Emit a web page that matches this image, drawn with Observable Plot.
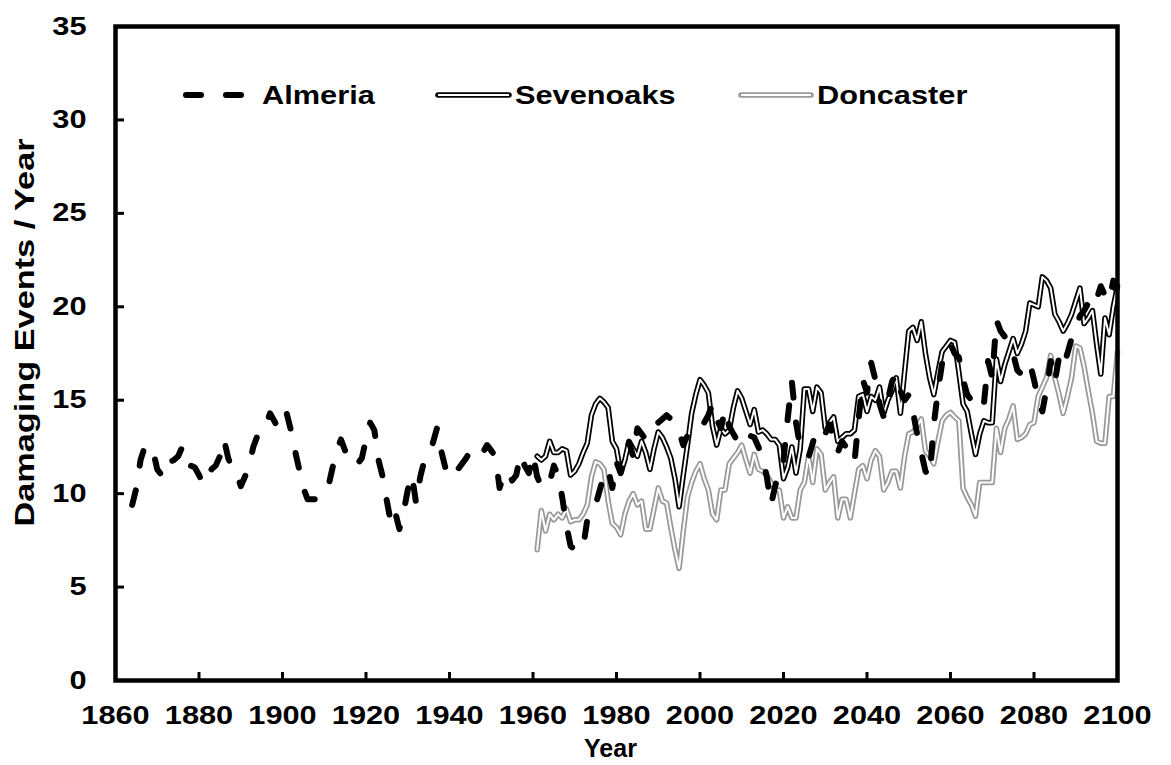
<!DOCTYPE html>
<html><head><meta charset="utf-8">
<script src="https://cdn.jsdelivr.net/npm/d3@7"></script>
<script src="https://cdn.jsdelivr.net/npm/@observablehq/plot@0.6"></script>
<style>
body{margin:0;background:#fff}
#chart{width:1171px;height:765px;position:relative}
</style>
</head><body><div id="chart"></div>
<script>
// ---- data ----
const almeriaStart = 1864;
const almeria = [
 9.4,10.3,11.8,12.5,12.2,12.3,11.3,11.0,10.9,11.7,
 11.8,12.0,12.5,11.6,11.5,11.4,11.0,10.5,11.0,11.3,
 11.5,12.0,12.9,11.9,11.3,11.1,10.4,10.9,11.5,12.5,
 13.1,13.5,13.6,14.3,13.9,13.5,14.2,14.3,13.4,12.3,
 11.3,10.3,9.7,9.7,9.7,9.8,10.0,10.4,11.4,12.3,
 12.9,12.3,11.9,11.5,11.6,11.9,12.9,13.8,13.4,11.8,
 10.9,9.6,8.4,9.0,8.1,9.0,10.2,11.0,9.5,10.9,
 11.8,12.3,12.7,13.5,12.3,11.4,11.8,11.8,11.3,11.6,
 11.9,12.3,12.5,12.3,12.2,12.6,12.3,12.0,10.3,11.0,
 11.2,10.7,11.0,12.1,11.5,11.1,12.1,10.9,10.4,10.3,
 10.6,11.5,11.0,9.8,8.3,7.2,7.0,6.9,7.1,8.6,
 9.0,9.4,10.2,11.0,11.3,10.3,11.7,11.1,12.0,12.75,
 12.0,13.5,13.2,12.9,13.2,13.6,13.8,14.0,14.2,14.0,
 13.6,13.3,12.6,13.1,13.2,13.3,13.3,13.8,14.2,14.8,
 14.0,13.5,14.5,13.6,13.2,12.8,13.3,13.2,13.1,13.0,
 12.5,11.9,10.9,9.4,10.4,11.2,11.8,14.0,16.0,13.8,
 12.5,12.2,11.95,12.7,13.5,13.4,13.2,13.7,13.0,12.2,
 12.8,12.5,12.2,11.7,14.0,16.1,15.4,17.0,16.1,14.8,
 14.1,15.0,16.0,16.4,15.5,15.0,15.3,14.4,13.2,12.2,
 11.2,10.9,13.7,15.5,17.0,17.6,18.0,17.5,17.3,16.1,
 15.3,15.0,15.3,14.9,14.8,17.1,16.2,19.3,18.7,18.4,
 18.0,17.5,16.6,16.4,16.8,17.0,16.1,15.0,14.4,15.6,
 17.1,16.0,17.3,16.8,17.5,18.3,18.9,19.5,19.8,20.2,
 19.9,20.4,21.1,20.6,20.3,21.4,20.6
];
const sevenoaksStart = 1961;
const sevenoaks = [
 12.0,11.8,12.0,12.8,12.2,12.2,12.4,12.3,11.0,11.2,
 11.6,12.2,12.7,14.2,14.8,15.1,14.9,14.6,12.8,12.4,
 11.1,11.8,12.8,12.4,12.0,12.8,12.2,11.3,12.4,13.3,
 13.0,12.5,11.9,10.8,9.3,11.0,12.6,14.3,15.3,16.1,
 15.8,15.4,13.6,12.6,13.5,13.2,13.4,14.6,15.5,15.1,
 14.4,13.7,14.5,13.3,13.4,13.2,12.9,12.9,12.6,10.8,
 11.4,12.5,11.1,12.4,15.6,15.6,14.4,15.7,15.4,13.5,
 13.8,14.1,12.8,13.0,13.2,13.2,13.4,15.2,15.3,14.4,
 15.2,15.0,15.7,14.3,15.0,15.5,16.2,14.3,16.5,18.7,
 18.9,18.2,19.2,17.5,16.2,15.3,16.5,17.6,17.9,18.2,
 18.1,16.5,14.8,14.4,13.2,12.1,13.2,13.9,13.8,13.8,
 17.2,16.0,16.9,17.6,18.3,17.5,18.0,18.7,20.2,20.1,
 20.0,21.6,21.4,21.0,19.6,19.2,18.7,19.1,19.6,20.3,
 21.0,19.1,19.4,19.8,18.0,16.4,19.4,18.5,20.0,21.1
];
const doncasterStart = 1961;
const doncaster = [
 7.0,9.1,8.0,8.9,8.6,8.9,8.7,9.2,8.5,8.6,
 8.6,8.9,9.4,10.9,11.7,11.6,11.3,9.6,8.4,8.2,
 7.8,8.9,9.6,10.0,9.4,9.6,8.1,8.1,9.2,10.3,
 9.6,9.5,8.2,7.0,6.0,8.0,9.8,10.6,11.2,11.6,
 10.8,10.2,8.9,8.6,10.2,10.2,11.6,11.9,12.2,12.6,
 11.8,11.1,12.1,11.3,11.2,11.0,10.6,10.2,10.2,8.7,
 9.3,8.7,8.7,10.2,10.6,12.0,10.6,12.4,12.1,10.2,
 10.6,10.9,8.7,9.7,9.7,8.7,10.0,11.3,11.5,10.8,
 11.8,12.3,12.0,10.2,10.6,11.2,11.2,10.3,12.0,13.2,
 13.3,13.6,14.0,12.3,12.0,11.6,12.8,13.9,14.2,14.35,
 14.1,13.9,10.3,9.8,9.4,8.8,10.6,10.6,10.6,10.6,
 13.5,12.2,13.5,14.0,14.7,12.9,13.0,13.2,13.7,13.8,
 15.2,15.7,16.2,17.4,16.2,15.3,14.3,15.2,16.2,17.9,
 17.8,16.8,15.5,14.3,12.8,12.7,12.7,15.2,15.2,17.6
];
const seriesNames = ["Almeria", "Sevenoaks", "Doncaster"];
const xTicks = [1860,1880,1900,1920,1940,1960,1980,2000,2020,2040,2060,2080,2100];
const yTicks = [0,5,10,15,20,25,30,35];
const xLabel = "Year";
const yLabel = "Damaging Events / Year";

// ---- build tables ----
const toRows = (start, vals) => vals.map((v, i) => ({year: start + i, value: v}));
const almeriaRows = toRows(almeriaStart, almeria);
const sevenoaksRows = toRows(sevenoaksStart, sevenoaks);
const doncasterRows = toRows(doncasterStart, doncaster);

const FONT = "'Liberation Sans', Arial, sans-serif";
const FS = 25;
const W = 1171, H = 765;
const mL = 115, mR = 54, mT = 26, mB = 85;
const pxPerY = (H - mT - mB) / 35;
const pxPerX = (W - mL - mR) / 240;
const OUT = 5.5, IN = 2;

const plot = Plot.plot({
  width: W, height: H,
  marginLeft: mL, marginRight: mR, marginTop: mT, marginBottom: mB,
  style: {fontFamily: FONT, fontWeight: "bold", fontSize: FS + "px", color: "black", background: "white", overflow: "visible"},
  x: {domain: [1860, 2100]},
  y: {domain: [0, 35]},
  marks: [
    Plot.axisX({ticks: xTicks, tickSize: 0, tickPadding: 26, tickFormat: d => String(d), label: null, fontSize: FS, fontWeight: "bold"}),
    Plot.axisY({ticks: yTicks, tickSize: 0, tickPadding: 29, label: null, fontSize: FS, fontWeight: "bold"}),
    // inward ticks
    Plot.ruleX(xTicks.slice(1, -1), {x: d => d, y1: 0, y2: 8 / pxPerY, stroke: "black", strokeWidth: 3}),
    Plot.ruleY(yTicks.slice(1, -1), {y: d => d, x1: 1860, x2: 1860 + 9 / pxPerX, stroke: "black", strokeWidth: 3}),
    // Doncaster (double grey line)
    Plot.line(doncasterRows, {x: "year", y: "value", stroke: "#999999", strokeWidth: OUT, strokeLinejoin: "round", strokeLinecap: "round"}),
    Plot.line(doncasterRows, {x: "year", y: "value", stroke: "white", strokeWidth: IN, strokeLinejoin: "round", strokeLinecap: "round"}),
    // Sevenoaks (double black line)
    Plot.line(sevenoaksRows, {x: "year", y: "value", stroke: "black", strokeWidth: OUT, strokeLinejoin: "round", strokeLinecap: "round"}),
    Plot.line(sevenoaksRows, {x: "year", y: "value", stroke: "white", strokeWidth: IN, strokeLinejoin: "round", strokeLinecap: "round"}),
    // Almeria (thick dashed)
    Plot.line(almeriaRows, {x: "year", y: "value", stroke: "black", strokeWidth: 6, strokeDasharray: "15,25", strokeLinecap: "round", strokeLinejoin: "round"}),
    Plot.frame({stroke: "black", strokeWidth: 4.5}),
    Plot.text([xLabel], {frameAnchor: "bottom", dx: -6, dy: 68, lineAnchor: "middle", fontSize: FS, fontWeight: "bold", fill: "black", textAnchor: "middle", className: "xlabel"}),
    Plot.text([yLabel], {frameAnchor: "left", rotate: -90, dx: -90, dy: -21, lineAnchor: "middle", fontSize: 27, fontWeight: "bold", fill: "black", textAnchor: "middle", className: "ylabel"})
  ]
});

// legend inside the plot area
const svg = d3.select(plot);
const leg = svg.append("g").attr("class", "legend").attr("font-family", FONT).attr("font-weight", "bold").attr("font-size", FS).attr("text-anchor", "start");
const ly = 95;
const items = [
  {name: seriesNames[0], x0: 186, x1: 241, tx: 262, kind: "dash"},
  {name: seriesNames[1], x0: 438, x1: 509, tx: 515, kind: "double", color: "black"},
  {name: seriesNames[2], x0: 741, x1: 811, tx: 817, kind: "double", color: "#999999"}
];
for (const it of items) {
  if (it.kind === "dash") {
    leg.append("line").attr("x1", it.x0).attr("x2", it.x1).attr("y1", ly).attr("y2", ly)
      .attr("stroke", "black").attr("stroke-width", 6).attr("stroke-dasharray", "15,25").attr("stroke-linecap", "round");
  } else {
    leg.append("line").attr("x1", it.x0).attr("x2", it.x1).attr("y1", ly).attr("y2", ly)
      .attr("stroke", it.color).attr("stroke-width", OUT).attr("stroke-linecap", "round");
    leg.append("line").attr("x1", it.x0).attr("x2", it.x1).attr("y1", ly).attr("y2", ly)
      .attr("stroke", "white").attr("stroke-width", IN);
  }
  leg.append("text").attr("x", it.tx).attr("y", ly).attr("dy", "0.35em").attr("fill", "black").text(it.name);
}
document.getElementById("chart").appendChild(plot);

// widen lettering (the reference's text is stretched) by wrapping each text in a scaled group
const SX = 1.23;
plot.querySelectorAll("text").forEach(t => {
  const inX = t.closest(".xlabel"), inY = t.closest(".ylabel");
  const anchor = getComputedStyle(t).textAnchor;
  const origin = anchor === "end" ? "right center" : anchor === "start" ? "left center" : "center center";
  const g = document.createElementNS("http://www.w3.org/2000/svg", "g");
  t.parentNode.insertBefore(g, t);
  g.appendChild(t);
  g.style.transformBox = "fill-box";
  if (inY) { g.style.transformOrigin = "center center"; g.style.transform = "scaleY(1.27)"; return; }
  if (inX) return;
  g.style.transformOrigin = origin;
  g.style.transform = `scaleX(${SX})`;
});
</script>
</body></html>
